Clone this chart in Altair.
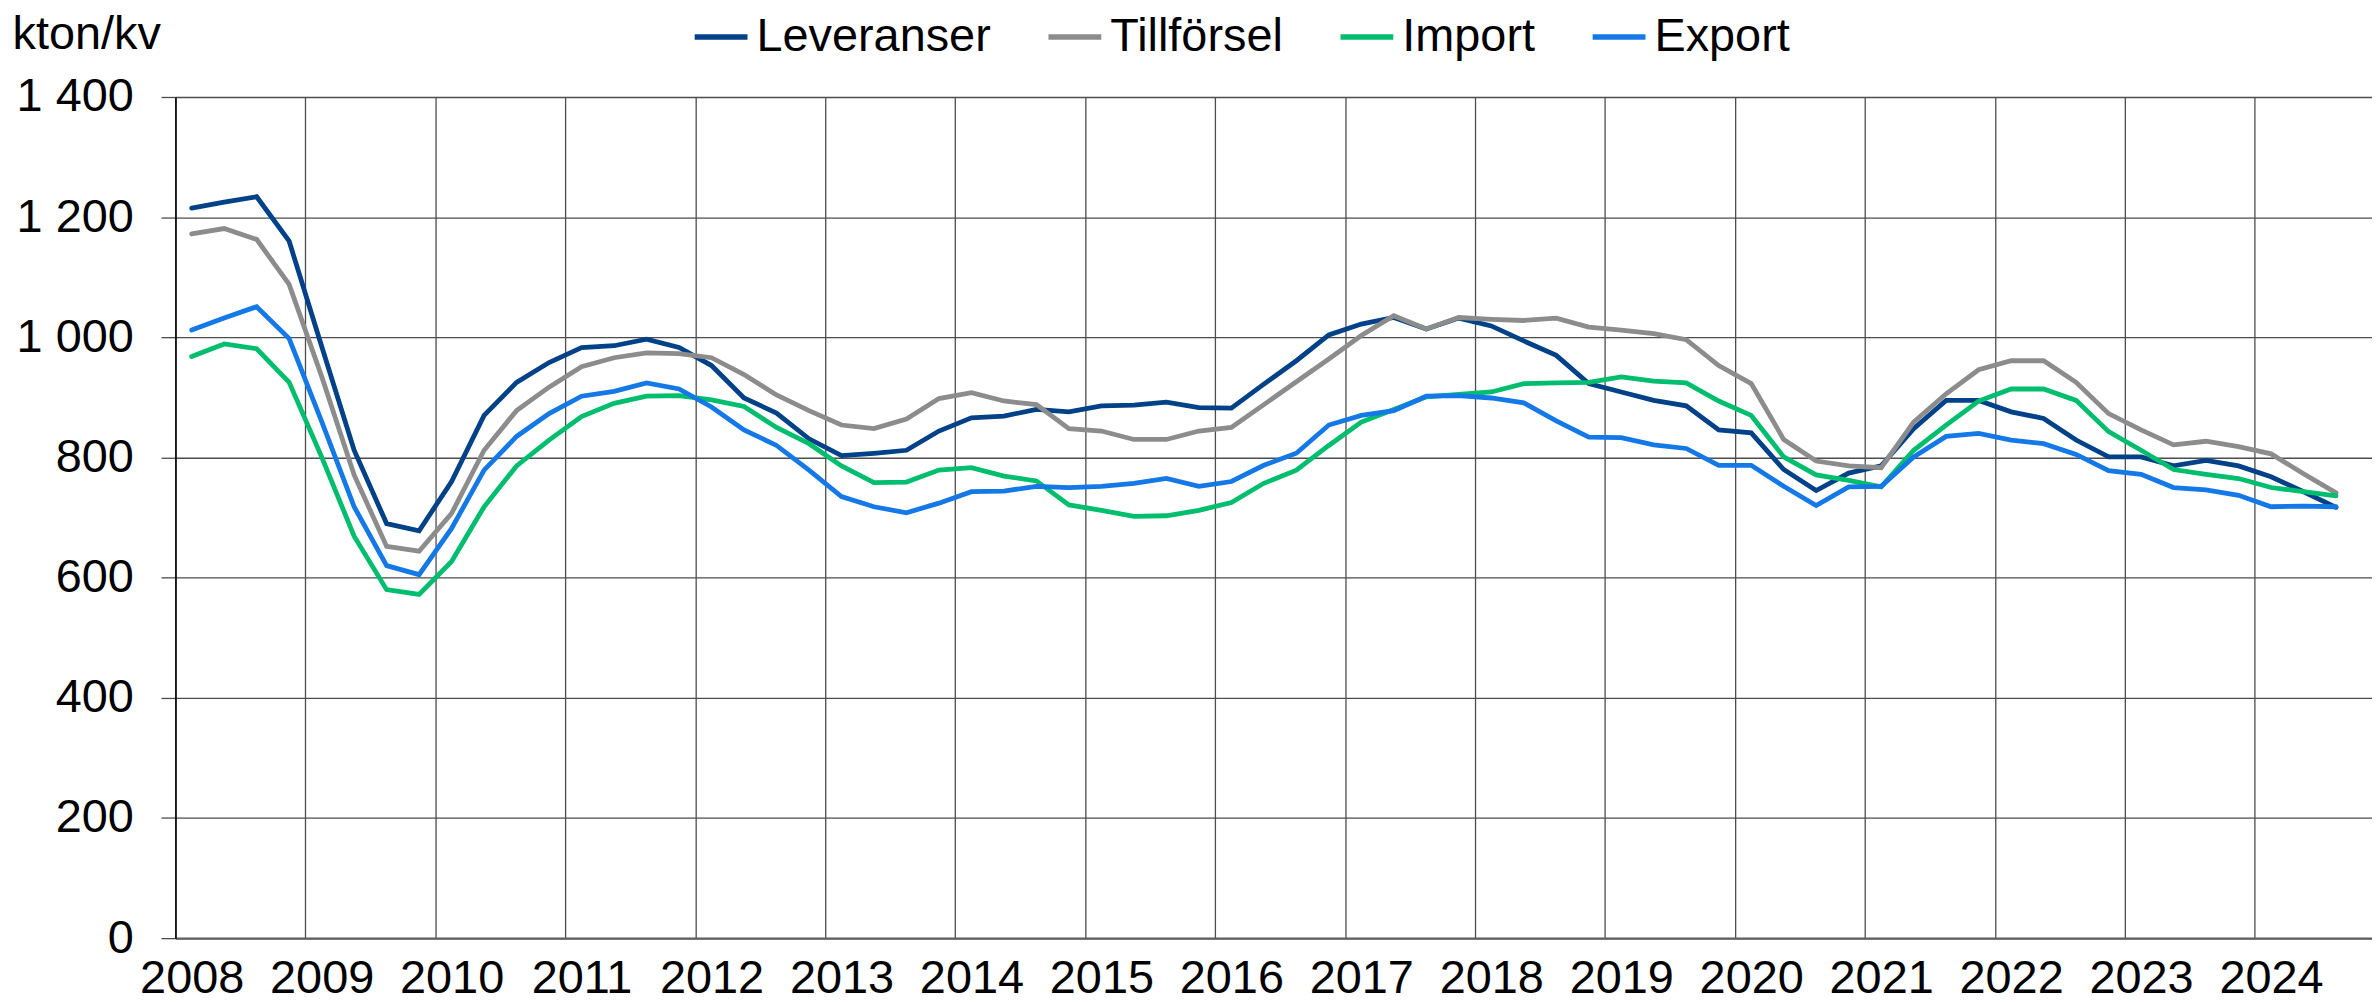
import altair as alt
import pandas as pd

# ---- data (kton per quarter, 2008 K1 .. 2024 K3) ----
years = list(range(2008, 2025))
quarters = [f"{y} K{q}" for y in years for q in (1, 2, 3, 4)][:67]

leveranser = [1215, 1225, 1234, 1160, 985, 812, 690, 678, 760, 870, 925, 958,
              983, 986, 997, 983, 953, 899, 874, 831, 803, 807, 812,
              844, 866, 869, 880, 876, 886, 887, 892, 883, 882, 922, 961,
              1004, 1022, 1033, 1014, 1032, 1019, 994, 970, 923, 909, 895,
              886, 846, 841, 780, 745, 774, 786, 848, 895, 895, 876,
              865, 829, 801, 801, 786, 795, 786, 768, 743, 717]
tillforsel = [1172, 1181, 1163, 1088, 935, 771, 652, 644, 707, 812, 878, 917,
              951, 966, 974, 973, 966, 938, 904, 878, 854, 848, 864,
              898, 908, 894, 888, 848, 844, 830, 830, 844, 850, 888, 926,
              964, 1003, 1036, 1014, 1033, 1030, 1028, 1032, 1017, 1012, 1006,
              996, 953, 923, 830, 794, 786, 783, 859, 906, 946, 961,
              961, 925, 873, 846, 821, 827, 818, 806, 773, 741]
import_values = [968, 989, 981, 925, 801, 669, 580, 572, 627, 718, 786, 829,
                 868, 890, 902, 903, 896, 885, 850, 823, 786, 758, 759,
                 779, 783, 769, 761, 721, 712, 702, 703, 712, 725, 757, 779,
                 820, 859, 880, 901, 905, 909, 923, 924, 925, 934, 927,
                 924, 894, 870, 801, 771, 762, 751, 812, 854, 894, 914,
                 914, 895, 843, 812, 780, 772, 765, 750, 743, 736]
export_values = [1012, 1032, 1051, 998, 860, 718, 620, 605, 682, 779, 835, 873,
                 902, 910, 924, 914, 884, 846, 820, 779, 735, 718, 708,
                 724, 743, 744, 752, 750, 752, 757, 765, 752, 760, 787, 807,
                 854, 870, 878, 902, 903, 899, 891, 861, 834, 833, 821,
                 815, 787, 787, 752, 720, 751, 752, 801, 835, 840, 829,
                 823, 805, 778, 772, 750, 746, 737, 718, 719, 718]

series_names = ["Leveranser", "Tillförsel", "Import", "Export"]
series_colors = ["#004187", "#8c8c8c", "#00be6e", "#1478e6"]
y_ticks = [0, 200, 400, 600, 800, 1000, 1200, 1400]
year_starts = [4 * i for i in range(len(years))]  # quarter index where each year begins

rows = []
for name, vals in zip(series_names, [leveranser, tillforsel, import_values, export_values]):
    for i, (q, v) in enumerate(zip(quarters, vals)):
        rows.append({"serie": name, "kvartal": q, "nr": i, "varde": v})
df = pd.DataFrame(rows)

# ---- styling ----
FONT = "Liberation Sans"
FS = 47
Q = 32.6          # px per quarter
W = 2204
H = 844
GRID = "#4d4d4d"

x_scale = alt.Scale(domain=[0, W / Q], nice=False, zero=False)
y_scale = alt.Scale(domain=[0, 1400], nice=False)
color_scale = alt.Scale(domain=series_names, range=series_colors)

x_axis = alt.Axis(values=year_starts, grid=True, gridColor=GRID, gridWidth=1.3,
                  ticks=False, domain=True, domainColor="#5e5e5e", domainWidth=2.2,
                  labelExpr="2008 + datum.value / 4", labelOffset=Q / 2,
                  labelPadding=18, labelFontSize=FS, labelFont=FONT, labelColor="black",
                  labelFlush=False, labelOverlap=False, labelAlign="center",
                  labelBaseline="top", title=None)
y_axis = alt.Axis(values=y_ticks, grid=True, gridColor=GRID, gridWidth=1.3,
                  ticks=True, tickSize=14.5, tickColor=GRID, tickWidth=1.3,
                  domain=True, domainColor="#000000", domainWidth=1.5,
                  labelExpr="replace(format(datum.value, ','), ',', ' ')",
                  labelPadding=27.8, labelFontSize=FS, labelFont=FONT, labelColor="black",
                  title="kton/kv", titleAngle=0, titleX=-164, titleY=-49,
                  titleAlign="left", titleBaseline="alphabetic", titleFont=FONT,
                  titleFontSize=FS, titleFontWeight="normal", titleColor="black")
legend = alt.Legend(orient="none", legendX=518, legendY=-90, direction="horizontal",
                    title=None, symbolType="stroke", symbolSize=2809, symbolStrokeWidth=5.5,
                    labelFontSize=FS, labelFont=FONT, labelColor="black", labelOffset=6,
                    columnPadding=46, padding=0, labelLimit=500)

layers = []
for name in series_names:
    layers.append(
        alt.Chart(df)
        .transform_filter(alt.datum.serie == name)
        .transform_calculate(pos="datum.nr + 0.5")
        .mark_line(strokeWidth=4.8, strokeCap="round")
        .encode(
            x=alt.X("pos:Q", scale=x_scale, axis=x_axis),
            y=alt.Y("varde:Q", scale=y_scale, axis=y_axis),
            color=alt.Color("serie:N", scale=color_scale, legend=legend),
            tooltip=["kvartal:N", "serie:N", "varde:Q"],
        )
    )

chart = (
    alt.layer(*layers)
    .properties(width=W, height=H,
                autosize=alt.AutoSizeParams(type="none"),
                padding={"left": 168, "top": 87.6, "right": 0, "bottom": 996 - 87.6 - H})
    .configure_view(stroke="transparent")
    .configure(background="white")
)

chart.save("out.html", embed_options={"renderer": "svg", "actions": False})
